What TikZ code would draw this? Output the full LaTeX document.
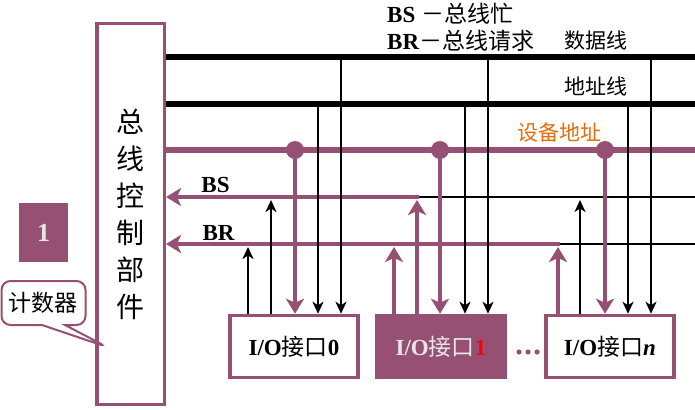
\documentclass[tikz,border=0pt]{standalone}
\usepackage{fontspec}
\setmainfont{Liberation Serif}
\newfontfamily\zh{Noto Sans CJK SC}
\usetikzlibrary{arrows.meta,shapes.callouts}
\definecolor{busred}{RGB}{150,80,115}
\definecolor{addrorange}{RGB}{228,108,10}
\definecolor{paletext}{RGB}{230,230,230}
\newcommand{\zhtxt}[1]{{\zh\mdseries #1}}

\begin{document}
\begin{tikzpicture}[x=1pt, y=-1pt,
    iobox/.style={rectangle, draw=busred, line width=3.5pt, minimum width=128pt,
                  minimum height=62pt, inner sep=0pt,
                  font=\fontsize{23}{27}\selectfont\bfseries},
    lbl/.style={inner sep=0pt, font=\fontsize{23}{27}\selectfont\bfseries},
    zhlbl/.style={inner sep=0pt, font=\fontsize{21}{25}\selectfont\zh},
    busline/.style={line width=5.5pt},
    pbus/.style={line width=6pt, busred},
    sline/.style={line width=2.6pt},
    arrow/.style={sline, -{Stealth[length=12pt, width=11pt, inset=3.5pt]}},
    parrow/.style={line width=4.8pt, busred, -{Stealth[length=15pt, width=18pt, inset=4pt]}},
    tap/.style={circle, fill, inner sep=0pt, minimum size=6pt},
    ptap/.style={circle, fill=busred, inner sep=0pt, minimum size=18pt}
]
\useasboundingbox (0,0) rectangle (695,409);

\node[draw=busred, line width=3.5pt, minimum width=67.5pt, minimum height=380.5pt, inner sep=0pt,
      align=center, font={\fontsize{28}{37}\selectfont\zh}] (ctrl) at (130.5,214)
      {总\\线\\控\\制\\部\\件};

\node[fill=busred, minimum width=49pt, minimum height=59pt, text=paletext,
      font=\fontsize{26}{30}\selectfont\bfseries] (num) at (43.5,232.5) {1};
\node[rectangle callout, draw=busred, line width=2pt, fill=white, rounded corners=9pt,
      minimum width=84pt, minimum height=44pt, callout absolute pointer={(107,347)},
      callout pointer width=23pt, font=\fontsize{23}{27}\selectfont\zh] (cnt) at (43.5,303) {计数器};

\node[lbl, anchor=west] (lgbs) at (387,14) {BS \zhtxt{－总线忙}};
\node[lbl, anchor=west] (lgbr) at (387,41) {BR\zhtxt{－总线请求}};
\node[zhlbl, anchor=west] (datlbl) at (564,41) {数据线};
\node[zhlbl, anchor=west] (adrlbl) at (564,86) {地址线};
\node[zhlbl, anchor=west, text=addrorange] (devlbl) at (517,133) {设备地址};
\node[lbl] (bslbl) at (215.5,185) {BS};
\node[lbl] (brlbl) at (218.5,233) {BR};

\node[iobox] (io0) at (294,346.5) {I/O\zhtxt{接口}0};
\node[iobox, fill=busred, text=paletext] (io1) at (441,346.5) {I/O\zhtxt{接口}\textcolor{red}{1}};
\node[iobox] (ion) at (610,346.5) {I/O\zhtxt{接口}\textit{n}};
\foreach \x in {519,528,537} \fill[busred] (\x,352) circle (2.6pt);

\coordinate (datR) at (695,57);
\coordinate (adrR) at (695,104);
\coordinate (devR) at (695,150);
\coordinate (bsR) at (695,197);
\coordinate (brR) at (695,244);
\coordinate (bsJ) at (419,197);
\coordinate (brJ) at (560,244);
\draw[busline] (ctrl.east |- datR) -- (datR);
\draw[busline] (ctrl.east |- adrR) -- (adrR);
\draw[pbus] (ctrl.east |- devR) -- (devR);
\draw[parrow] (bsJ) -- (ctrl.east |- bsJ);
\draw[sline] (bsJ) -- (bsR);
\draw[parrow] (brJ) -- (ctrl.east |- brJ);
\draw[sline] (brJ) -- (brR);

\node[tap] (d0) at (341,57) {};
\node[tap] (d1) at (488,57) {};
\node[tap] (d2) at (651,57) {};
\node[tap] (a0) at (318,104) {};
\node[tap] (a1) at (465,104) {};
\node[tap] (a2) at (628,104) {};
\node[ptap] (v0) at (295,150) {};
\node[ptap] (v1) at (440,150) {};
\node[ptap] (v2) at (605,150) {};

\draw[arrow] (d0.center) -- (d0 |- io0.north);
\draw[arrow] (a0.center) -- (a0 |- io0.north);
\draw[parrow] (v0.center) -- (v0 |- io0.north);
\draw[arrow] (d1.center) -- (d1 |- io1.north);
\draw[arrow] (a1.center) -- (a1 |- io1.north);
\draw[parrow] (v1.center) -- (v1 |- io1.north);
\draw[arrow] (d2.center) -- (d2 |- ion.north);
\draw[arrow] (a2.center) -- (a2 |- ion.north);
\draw[parrow] (v2.center) -- (v2 |- ion.north);

\coordinate (br0) at (248,247);
\coordinate (bs0) at (271,200);
\coordinate (br1) at (394,247);
\coordinate (bs1) at (417,200);
\coordinate (br2) at (558,247);
\coordinate (bs2) at (580,200);
\draw[arrow] (br0 |- io0.north) -- (br0);
\draw[arrow] (bs0 |- io0.north) -- (bs0);
\draw[parrow] (br1 |- io1.north) -- (br1);
\draw[parrow] (bs1 |- io1.north) -- (bs1);
\draw[parrow] (br2 |- ion.north) -- (br2);
\draw[arrow] (bs2 |- ion.north) -- (bs2);
\end{tikzpicture}
\end{document}
